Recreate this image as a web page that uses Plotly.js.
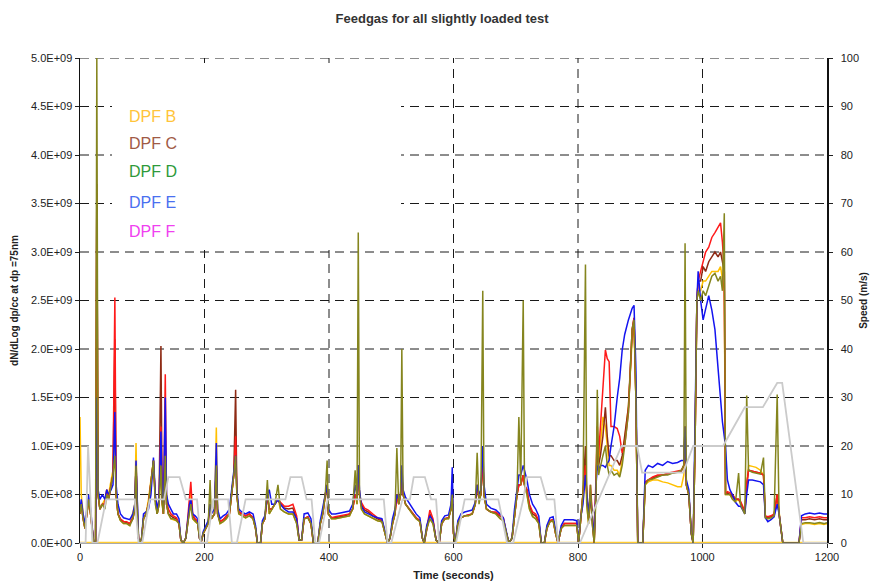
<!DOCTYPE html>
<html>
<head>
<meta charset="utf-8">
<script src="https://cdn.plot.ly/plotly-3.0.1.min.js"></script>
<style>html,body{margin:0;padding:0;background:#fff;}#chart{width:872px;height:585px;}</style>
</head>
<body>
<div id="chart"></div>
<script>
// Values of the particle series are in units of 1E+08 (dN/dLog dp/cc)
const UNIT = 1e8;
const TIME = [
  0,2,5,8,11,14,17,20,22,25,27,29,32,36,40,43,46,50,53,56,58,61,65,70,75,80,85,88,90,92,94,96,99,
  102,106,110,114,118,121,124,127,130,132,134,137,139,142,146,150,155,159,162,166,170,173,176,178,181,185,189,192,195,198,
  202,206,209,211,216,219,221,225,230,235,240,244,247,250,252,255,260,266,272,278,282,285,290,293,297,
  301,304,308,313,318,322,328,335,342,348,352,356,360,366,371,375,382,386,390,394,397,399,
  404,410,418,426,433,438,442,445,447,449,452,457,463,470,478,485,490,494,498,
  502,506,509,512,515,517,519,523,528,534,540,546,550,553,557,562,567,572,577,581,586,592,596,598,
  600,603,607,612,618,624,630,635,638,641,644,647,649,653,660,668,675,680,685,689,694,698,
  702,705,708,712,714,718,722,727,732,737,741,746,750,755,760,764,768,773,778,785,792,798,
  801,804,808,812,814,817,820,823,826,829,831,833,836,840,844,847,850,853,858,863,867,871,875,881,887,890,893,896,
  904,908,913,920,928,936,944,952,960,966,970,972,974,978,982,985,988,991,993,997,
  1001,1005,1010,1015,1020,1025,1029,1032,1035,1037,1040,1044,1048,1053,1058,1061,1064,1068,1071,1074,1080,1086,1093,1098,
  1101,1105,1110,1115,1120,1123,1126,1129,1155,1159,1165,1172,1180,1188,1195,1200
];
const DPF_D = [
  3,4,2.5,1.5,3,4.5,3,1,0,0,50,5,3.5,4,3.5,5,4.5,6,7,9,5,3,2.3,2,2,1.8,2.5,3.5,8,3,0.5,0,0.5,
  2.5,3,4,6,8.5,4,3,4,8,4,3,9,4,3,2.5,2.5,2.3,2,0.3,0,0.5,2,3,4,2.5,2.2,2,0.5,0.2,1,
  1.5,2,6.5,2.5,3,8,3,2,2.2,2.5,3,5,7,9,5,3,2.8,2.6,2.8,2.5,1.5,0,0,2,2.5,
  6.5,3,3.5,4,6,3.5,3.2,3,3,2,0.3,0.3,2.5,2.6,2,0,0,2,3,5,8.5,3,
  2.5,2.5,2.6,2.7,2.8,3.5,7.5,4,32,5,3.5,3,2.8,2.5,2.3,2.2,1,0,0.5,
  2,3,9.8,4,5,20,5,4,3.5,3,2.5,2.2,0.5,0,1.5,2.5,2,0.3,0,2,2.5,2.5,3.5,5,
  1,0,2,2.6,2.8,2.8,3,4,9.3,4,5,26,5,3.5,3.2,3,2.5,2.3,1,0,0.5,3,
  5,13,6,25,6,5,3.5,2.7,2.5,2,0,0,1.5,2.2,2.3,1,0,1.5,1.8,1.8,1.8,1.8,
  0,2,5,28.7,4,2,6,2,0,5,15.8,7,8,9,10,8,7,7.5,7,7.2,6.8,8,10,13.4,22,23,15,0,
  0,6,6.5,6.6,6.8,7,7,7.2,7.3,7.5,8,30.9,6,5,1,0,10,25,26,25,
  26,25.5,26.5,27.5,27.8,27,27.5,26,34,5,5,5,4.5,4.2,7.2,4,3.5,3,15.2,7.5,7.3,7.2,7.1,8.8,
  2.6,2.5,2.6,2.8,15.3,3,1.5,0,0,2,2.1,2.1,2,2.1,2,2.1
];
const DPF_E = [
  3.5,4.5,3,2,3.5,5,3.5,1,0,0,15,5.5,4.5,5,4.5,5.5,5,5.5,6,13.5,6,4,3,2.6,2.5,2.4,3,4,8.5,3,0.5,0,0.5,
  3,3.2,3.5,5,8.8,5,3.5,4.5,11.5,5,3.5,15,5,4,3.5,3,3,2.5,0.3,0,0.5,2.5,4,4.5,3,2.8,2.5,0.5,0.2,1.2,
  1.8,2.3,4,3,3.5,10.3,3.5,2.5,2.8,3,3.5,5.5,7.5,9,5.5,3.5,3.2,3,3.2,3,1.8,0,0,2.3,2.8,
  5,5.5,4,4,4.5,4,3.5,3.2,3.2,2.5,0.3,0.3,3,3.1,2.5,0,0,2.3,3.5,5,6,3.5,
  3,3,3.1,3.2,3.3,4,6,5,8,5.5,3.8,3.2,3,2.8,2.6,2.5,1.2,0,0.5,
  2.5,3.5,5,4.5,5,8,5.5,4.7,4.2,3.5,3,2.6,0.5,0,1.8,2.8,2.3,0.3,0,2.3,2.8,2.9,4,7.8,
  1.2,0,2.3,3,3.2,3.3,3.4,4.2,6,5,5.5,10,6,4,3.6,3.4,3,2.6,1,0,0.5,3.5,
  5.5,7,7,8,7.5,6.5,5,4,3.5,2.8,0,0,1.8,2.6,2.7,1.2,0,1.8,2.4,2.4,2.4,2.3,
  0,2.5,4,7,5,3,5,2.5,0.5,6,8,7.5,8,8,7.8,8.2,8.5,10,12,15,17,19.9,21.5,23,24.2,24.5,18,0,
  0,7.5,8,7.8,8.2,8,8.4,8.2,8.3,8.5,8.5,12,6.5,5.5,1,0,14,25,28,25,
  23,24,25.5,24,22,18,14.5,12.5,11,10,6.5,5.5,5,4.2,3.8,3.8,3.5,3,5,6.5,6.5,6.4,6.3,6,
  2.6,2.2,2.4,2.7,4,3,1.5,0,0,2.8,3,3.1,3,3.1,3,3
];
const DPF_C = [
  3,4,2.5,1.5,3,4.5,3,1,0,0,37,5,3.5,4,4,5.2,4.5,6,7,21,5,3,2.4,2.2,2.1,2,2.5,3.5,8,3,0.5,0,0.5,
  2.5,3,4,6,8.5,4.5,3,4,20.3,4.5,3,10,4,3,2.8,2.6,2.5,2,0.3,0,0.5,2,3.5,4.5,2.8,2.4,2.2,0.5,0.2,1,
  1.5,2,4,2.5,3,8,3,2.2,2.4,2.6,3,5,7,15.8,5,3.2,3,2.8,3,2.6,1.5,0,0,2,2.5,
  5,3.5,3.5,4,4.5,4,3.6,3.5,3.6,2.5,0.3,0.3,2.5,2.7,2,0,0,2,3,5,6,3,
  2.6,2.6,2.7,2.8,3,3.5,5,4.5,8,5,4,3.4,3.2,2.8,2.5,2.3,1,0,0.5,
  2,3,5,4,5,7,5,4,3.6,3.2,2.6,2.3,0.5,0,1.5,3,2.3,0.3,0,2,2.5,2.6,3.5,5,
  1,0,2,2.6,2.8,2.9,3,4,6,4.5,5,9,5,3.5,3.2,3.1,2.7,2.5,1,0,0.5,3,
  5,6,6,7,6,5.5,3.8,3,2.8,2.2,0,0,1.5,2.3,2.4,1,0,1.5,2,2,2,2,
  0,2,5,10,5,2.5,5,2,0,6,10,8,9,11,14,11,9,9,8.5,8.5,8,9,11,14,22,23.2,15,0,
  0,6.2,6.5,6.7,6.9,7,7.1,7.2,7.3,7.4,8,12,6,5,1,0,10,25,27,27,
  28.5,28,29,29.5,30,29.5,30,29,28,5,5.2,5,4.8,4.5,4.5,4.2,3.7,3.2,6,7.5,7.4,7.3,7.2,7,
  2.7,2.6,2.7,2.9,5,3,1.5,0,0,2.4,2.4,2.5,2.4,2.5,2.4,2.4
];
const DPF_F = [
  3,4,2.5,1.5,3,4.5,3,1,0,0,36,5,3.5,4,4,5.5,4.5,6,7,25.3,5,3,2.5,2.2,2.2,2,2.6,3.5,8,3,0.5,0,0.5,
  2.5,3,4,6,8.5,4.5,3.5,4.5,12,4.5,3,17.4,4.5,3.5,3,2.8,2.6,2,0.3,0,0.5,2.5,4.5,6.3,3,2.5,2.3,0.5,0.2,1,
  1.5,2,4,2.5,3,8,3,2.2,2.4,2.8,3,5,7,11,5,3.2,3,2.8,3,2.6,1.5,0,0,2,2.5,
  5,3.5,3.5,4,4.5,4.2,3.8,3.8,4,2.8,0.3,0.3,2.5,2.7,2,0,0,2,3,5,6,3,
  2.6,2.7,2.8,2.9,3,3.5,5,4.5,8,5,4.2,3.6,3.4,3,2.6,2.4,1,0,0.5,
  2,3,5,4,5,7,5,4,3.6,3.2,2.6,2.3,0.5,0,1.5,3.4,2.5,0.3,0,2,2.5,2.6,3.5,5,
  1,0,2,2.6,2.8,2.9,3,4,6,4.5,5,9,5,3.5,3.2,3.2,2.8,2.6,1,0,0.5,3,
  5,6,6,7,6,5.5,4,3.2,3,2.3,0,0,1.5,2.3,2.4,1,0,1.5,2,2,2,2,
  0,2,5,8,5,2.5,6,2.5,0,7,12,9,12,16,19.9,19,18.7,12,12,11.8,11,9.3,10,13.5,22,23.2,15,0,
  0,6.3,6.5,6.8,7,7,7.2,7.3,7.4,7.5,8,12,6,5,1,0,10,25,27,28,
  29,30,30.5,31.5,32,32.5,33,31,28,5,5.3,5.2,5,4.6,4.5,4.3,3.8,3.3,6,7.5,7.4,7.3,7.2,7,
  2.8,2.7,2.8,3,5,3,1.5,0,0,2.6,2.6,2.7,2.6,2.7,2.6,2.6
];
const DPF_B = [
  13,5,3,1.5,3,4.5,3,1,0,0,25,5,3.5,4,4.5,5.5,5,6.5,7.5,12,5,3,2.3,2,2,1.8,3,4,10.3,3,0.5,0,0.5,
  2.5,3,4.5,6.5,8.5,4.5,3,4,8,4,3,9,4,3,2.5,2.4,2.3,2,0.3,0,0.5,2,3.5,5.5,2.5,2.2,2,0.5,0.2,1,
  1.5,2,4,2.5,3,11.9,3.2,2,2.2,2.5,3,5,7,9,5,3,2.8,2.6,2.8,2.5,1.5,0,0,2,2.5,
  5,3,3.5,4,4.5,3.5,3.2,3,3,2,0.3,0.3,2.5,2.6,2,0,0,2,3,5,6,3,
  2.5,2.5,2.6,2.7,2.8,3.5,5,4,8,5,3.5,3,2.8,2.5,2.3,2.2,1,0,0.5,
  2,3,5,4,5,7,5,4,3.5,3,2.5,2.2,0.5,0,1.5,2.5,2,0.3,0,2,2.5,2.5,3.5,5,
  1,0,2,2.6,2.8,2.8,3,4,6,4.5,5,9,5,3.5,3.2,3,2.5,2.3,1,0,0.5,3,
  5,6,6,7,6,5,3.5,2.8,2.5,2,0,0,1.5,2.2,2.3,1,0,1.5,1.8,1.8,1.8,1.8,
  0,2,5,8,4,2,5,2,0,6,12,8,10,13,12,10,8,8,7.5,7.5,7,8.5,11,14,21,22.5,15,0,
  0,6,6.3,6.5,6.5,6.3,6.2,6,5.8,5.8,7,12,6,5,1,0,10,25,26,26,
  27,27,27.5,28,28,28,28.5,27,26,5,5,5,4.6,4.3,4.5,4,3.5,3,6,8,7.9,7.8,7.5,7,
  2.6,2.5,2.6,2.8,5,3,1.5,0,0,1.9,2,2,1.9,2,1.9,2
];
const BASE_TIME = [0, 1200];
const BASE_VALUE = [0, 0];
const SPEED_TIME = [0,9,13,17,20,28,42,88,94,100,112,135,142,160,170,188,194,204,214,238,244,252,266,330,338,356,364,372,378,384,398,488,494,500,518,530,536,554,564,572,577,604,618,672,686,696,712,718,740,750,762,768,803,870,895,903,969,985,1033,1068,1097,1120,1128,1162,1200];
const SPEED = [0,0,20,8,0,0,9,9,0,0,9,9,13.6,13.6,9,9,0,0,9,9,0,0,9,9,13.6,13.6,9,9,0,0,9,9,0,0,9,9,13.6,13.6,9,9,0,0,9,9,0,0,9,13.6,13.6,9,9,0,0,20,20,14.5,14.5,20,20,28,28,33,33,0,0];

const X_TICKS = [0,200,400,600,800,1000,1200];
const X_GRID = [200,400,600,800,1000];
const Y_TICKS = [0,5e8,1e9,1.5e9,2e9,2.5e9,3e9,3.5e9,4e9,4.5e9,5e9];
const Y_GRID = [5e8,1e9,1.5e9,2e9,2.5e9,3e9,3.5e9,4e9,4.5e9,5e9];
const Y_TICK_LABELS = ['0.0E+00','5.0E+08','1.0E+09','1.5E+09','2.0E+09','2.5E+09','3.0E+09','3.5E+09','4.0E+09','4.5E+09','5.0E+09'];
const Y2_TICKS = [0,10,20,30,40,50,60,70,80,90,100];
const LEGEND_NAMES = ['DPF B','DPF C','DPF D','DPF E','DPF F'];
const LEGEND_COLORS = ['#FFC43A','#A05A46','#2E9A3A','#4A70F0','#F040F0'];

function scaled(arr){ return arr.map(v => v * UNIT); }
function line(name, y, color, width){
  return {type:'scatter', mode:'lines', name:name, x:TIME, y:scaled(y),
          line:{color:color, width:width}, hoverinfo:'x+y+name'};
}

const traces = [
  {type:'scatter', mode:'lines', name:'zero', x:BASE_TIME, y:BASE_VALUE,
   line:{color:'#FFCC33', width:2.5}, hoverinfo:'skip'},
  line('DPF B', DPF_B, '#FFC000', 1.5),
  line('DPF C', DPF_C, '#8E2A14', 1.5),
  line('DPF F', DPF_F, '#FF1A1A', 1.5),
  line('DPF E', DPF_E, '#1414F0', 1.5),
  line('DPF D', DPF_D, '#85851E', 1.5),
  {type:'scatter', mode:'lines', name:'Speed', x:SPEED_TIME, y:SPEED, yaxis:'y2',
   line:{color:'#CBCBCB', width:1.8}}
];

const annotations = LEGEND_NAMES.map((n, i) => ({
  text:n, xref:'paper', yref:'paper', x:0.063, y:[0.880,0.824,0.765,0.703,0.643][i],
  xanchor:'left', yanchor:'middle', showarrow:false,
  font:{family:'Liberation Sans, Arial, sans-serif', size:16, color:LEGEND_COLORS[i]}
}));

const dash = {color:'#1a1a1a', width:1, dash:'9px,6px'};
const shapes = [];
Y_GRID.forEach(v => shapes.push({type:'line', xref:'x', yref:'y', x0:0, x1:1200, y0:v, y1:v, line:dash, layer:'below'}));
X_GRID.forEach(v => shapes.push({type:'line', xref:'x', yref:'y', x0:v, x1:v, y0:0, y1:5e9, line:dash, layer:'below'}));
// white area behind the legend text (covers the grid there), same subplot layer as grid shapes
shapes.push({type:'rect', xref:'x', yref:'y', x0:51.4, x1:515.7, y0:3.02e9, y1:4.897e9,
  fillcolor:'#ffffff', line:{width:0}, layer:'below'});

const layout = {
  width:872, height:585,
  margin:{l:80, r:45, t:58, b:42},
  paper_bgcolor:'#ffffff', plot_bgcolor:'#ffffff',
  font:{family:'Liberation Sans, Arial, sans-serif', size:11, color:'#222'},
  showlegend:false,
  title:{text:'<b>Feedgas for all slightly loaded test</b>', font:{size:13, color:'#333'},
         xref:'container', x:0.507, xanchor:'center', yref:'container', y:0.969, yanchor:'middle'},
  xaxis:{range:[0,1200], tickvals:X_TICKS, ticks:'outside', ticklen:4, tickcolor:'#222',
    showline:true, linecolor:'#aaaaaa', zeroline:false, showgrid:false, layer:'below traces',
    tickfont:{size:11},
    title:{text:'<b>Time (seconds)</b>', font:{size:11}, standoff:9}},
  yaxis:{range:[0,5e9], tickvals:Y_TICKS, ticktext:Y_TICK_LABELS, ticks:'outside', ticklen:4,
    tickcolor:'#222', showline:true, linecolor:'#111', linewidth:1.5, zeroline:false, showgrid:false,
    tickfont:{size:11},
    title:{text:'<b>dN/dLog dp/cc at dp =75nm</b>', font:{size:10}, standoff:10}},
  yaxis2:{overlaying:'y', side:'right', range:[0,100], tickvals:Y2_TICKS, ticks:'outside', ticklen:4,
    tickcolor:'#222', showline:true, linecolor:'#111', linewidth:1.5, showgrid:false, zeroline:false,
    tickfont:{size:11}, ticklabelstandoff:6,
    title:{text:'<b>Speed (m/s)</b>', font:{size:10}, standoff:2}},
  shapes:shapes,
  annotations:annotations
};

Plotly.newPlot('chart', traces, layout, {displayModeBar:false, staticPlot:true});
</script>
</body>
</html>
